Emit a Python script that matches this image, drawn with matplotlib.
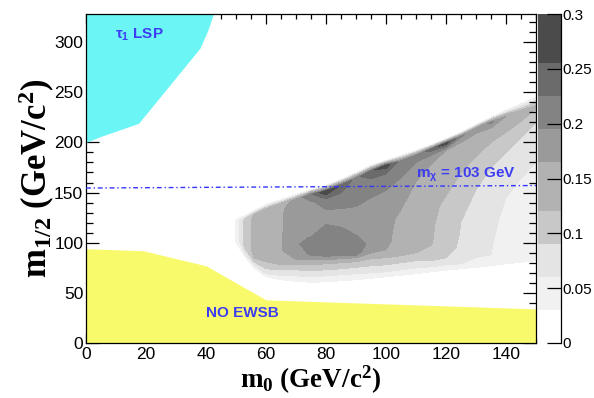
import numpy as np
import matplotlib
matplotlib.use('Agg')
import matplotlib.pyplot as plt
from matplotlib.ticker import MultipleLocator

plt.rcParams['font.family'] = ['Liberation Sans', 'DejaVu Sans']
plt.rcParams['mathtext.fontset'] = 'custom'
plt.rcParams['mathtext.rm'] = 'Liberation Serif'
plt.rcParams['mathtext.bf'] = 'Liberation Serif:bold'
plt.rcParams['mathtext.it'] = 'Liberation Serif:italic'
plt.rcParams['mathtext.sf'] = 'Liberation Sans:bold'

# ---------------- data ----------------
levels = [0, 0.03, 0.06, 0.09, 0.12, 0.165, 0.195, 0.225, 0.255, 0.3]
band_colors = ['#ffffff', '#f1f1f1', '#e4e4e4', '#c8c8c8', '#b2b2b2',
               '#9a9a9a', '#838383', '#6b6b6b', '#4b4b4b']
cbar_ticks = [0, 0.05, 0.1, 0.15, 0.2, 0.25, 0.3]
cbar_labels = ['0', '0.05', '0.1', '0.15', '0.2', '0.25', '0.3']

# grid columns (m0) with per-column m1/2 nodes and efficiency values
m0_cols = [48.5, 50.5, 53, 56, 60, 65, 70, 75, 80, 85, 90, 95, 100, 105,
           110, 115, 120, 125, 130, 135, 140, 145, 150]
m12_nodes = [
    [95, 100, 103, 106, 108, 110, 112, 114, 116, 118, 119, 120, 121, 124, 127],
    [92, 98, 101, 104, 106, 108, 110, 112, 114, 116, 118, 120, 121, 124, 127],
    [80, 86, 89, 92, 95, 99, 103, 107, 111, 115, 118, 121, 124, 127, 130],
    [71, 75, 78, 81, 85, 91, 97, 103, 109, 115, 120, 124, 128, 132, 135],
    [62, 66, 69, 74, 81, 88, 96, 104, 112, 119, 125, 129, 133, 138, 141],
    [59, 63, 67.5, 73, 78, 84, 92, 101, 110, 119, 127, 133, 138, 143, 146],
    [57, 61.5, 67, 73, 78, 83, 92, 100, 110, 120, 130, 137, 143, 148, 151],
    [56, 60.5, 66, 72, 78, 83, 88, 95, 103, 115, 130, 140, 148, 153, 156],
    [57, 61, 67, 73, 79, 83, 87, 100, 116, 125, 133, 142, 151, 157, 160],
    [58, 62, 68, 74, 80, 84, 88, 100, 112, 122, 134, 145, 157, 163, 166],
    [59, 63, 69, 75.5, 81, 85, 88, 96, 104, 120, 136, 150, 164, 170, 173],
    [60.5, 64.5, 70, 77, 84, 90, 95, 100, 108, 125, 145, 158, 171, 177, 180],
    [62, 66, 71, 78, 85, 93, 100, 110, 120, 135, 152, 165, 177, 182, 185],
    [63.5, 67.5, 73, 80, 87, 95, 105, 115, 125, 133, 150, 165, 181, 187, 190],
    [65, 69, 75, 82, 90, 100, 115, 130, 145, 161, 172, 180, 187, 192, 195],
    [67, 71, 76, 82, 90, 100, 115, 135, 155, 170, 178, 186, 193, 197.5, 200.5],
    [68.5, 72.5, 78, 85, 95, 110, 125, 137, 147, 165, 180, 192, 199, 203.5, 206.5],
    [70, 74, 79, 86, 95, 108, 121, 135, 150, 170, 185, 200, 206, 210, 213],
    [71.5, 75.5, 80, 88, 100, 115, 130, 153, 170, 186, 200, 209, 214, 217.5, 220.5],
    [73, 77, 82, 88, 100, 120, 140, 160, 175, 188, 200, 212, 220, 225, 228],
    [75, 79, 84, 95, 110, 125, 145, 165, 190, 200, 210, 218, 226, 232, 235],
    [76.5, 80.5, 86, 100, 120, 140, 164, 180, 195, 205, 214, 221, 230, 238.5, 241.5],
    [78, 82, 88, 100, 120, 145, 165, 180, 200, 212, 220, 228, 236, 245, 248],
]
eff_vals = [
    [0] * 15,
    [0, 0.03, 0.045, 0.05, 0.05, 0.05, 0.05, 0.05, 0.05, 0.05, 0.05, 0.05, 0.045, 0.03, 0],
    [0, 0.03, 0.06, 0.08, 0.095, 0.1, 0.1, 0.1, 0.1, 0.1, 0.1, 0.1, 0.09, 0.03, 0],
    [0, 0.03, 0.06, 0.09, 0.12, 0.13, 0.13, 0.13, 0.13, 0.13, 0.13, 0.13, 0.12, 0.03, 0],
    [0, 0.03, 0.06, 0.09, 0.12, 0.145, 0.15, 0.15, 0.15, 0.15, 0.15, 0.15, 0.14, 0.03, 0],
    [0, 0.03, 0.06, 0.09, 0.12, 0.155, 0.162, 0.162, 0.162, 0.162, 0.162, 0.16, 0.15, 0.03, 0],
    [0, 0.03, 0.06, 0.09, 0.12, 0.165, 0.185, 0.19, 0.185, 0.18, 0.18, 0.18, 0.175, 0.03, 0],
    [0, 0.03, 0.06, 0.09, 0.12, 0.165, 0.198, 0.21, 0.198, 0.185, 0.185, 0.19, 0.22, 0.03, 0],
    [0, 0.03, 0.06, 0.09, 0.12, 0.165, 0.2, 0.215, 0.198, 0.185, 0.195, 0.21, 0.28, 0.03, 0],
    [0, 0.03, 0.06, 0.09, 0.12, 0.165, 0.2, 0.215, 0.2, 0.185, 0.195, 0.21, 0.25, 0.03, 0],
    [0, 0.03, 0.06, 0.09, 0.12, 0.165, 0.2, 0.205, 0.198, 0.185, 0.195, 0.21, 0.215, 0.03, 0],
    [0, 0.03, 0.06, 0.09, 0.12, 0.165, 0.185, 0.19, 0.185, 0.18, 0.195, 0.205, 0.25, 0.03, 0],
    [0, 0.03, 0.06, 0.09, 0.12, 0.165, 0.172, 0.172, 0.172, 0.175, 0.195, 0.205, 0.27, 0.03, 0],
    [0, 0.03, 0.06, 0.09, 0.12, 0.14, 0.152, 0.156, 0.16, 0.165, 0.18, 0.195, 0.21, 0.03, 0],
    [0, 0.03, 0.06, 0.09, 0.12, 0.135, 0.14, 0.145, 0.152, 0.165, 0.18, 0.195, 0.2, 0.03, 0],
    [0, 0.03, 0.06, 0.09, 0.115, 0.122, 0.124, 0.13, 0.145, 0.158, 0.165, 0.185, 0.24, 0.03, 0],
    [0, 0.03, 0.06, 0.09, 0.1, 0.105, 0.108, 0.112, 0.12, 0.135, 0.15, 0.165, 0.27, 0.03, 0],
    [0, 0.03, 0.06, 0.075, 0.085, 0.088, 0.09, 0.1, 0.11, 0.12, 0.14, 0.165, 0.2, 0.03, 0],
    [0, 0.03, 0.05, 0.065, 0.072, 0.078, 0.083, 0.09, 0.1, 0.12, 0.14, 0.165, 0.18, 0.03, 0],
    [0, 0.03, 0.05, 0.06, 0.062, 0.065, 0.075, 0.085, 0.09, 0.105, 0.12, 0.15, 0.2, 0.03, 0],
    [0, 0.03, 0.042, 0.047, 0.05, 0.055, 0.06, 0.075, 0.09, 0.105, 0.12, 0.14, 0.165, 0.03, 0],
    [0, 0.03, 0.04, 0.045, 0.048, 0.053, 0.06, 0.07, 0.08, 0.09, 0.105, 0.12, 0.15, 0.03, 0],
    [0, 0.03, 0.038, 0.042, 0.045, 0.05, 0.055, 0.06, 0.075, 0.085, 0.09, 0.1, 0.13, 0.03, 0],
]

# excluded regions
ewsb_m0 = [0, 19, 40, 60, 150]
ewsb_m12 = [94, 92, 77, 43, 34]
lsp_m12 = [200, 206, 219, 294, 311, 328]
lsp_m0 = [0, 5, 17.5, 38, 40.5, 42.5]

# chargino mass line
mchi_m0 = [0, 150]
mchi_m12 = [154.5, 157]

# ---------------- plot ----------------
fig = plt.figure(figsize=(5.94, 3.98), dpi=100)
ax = fig.add_axes([86 / 594, 55 / 398, 450 / 594, 329 / 398])
cax = fig.add_axes([538 / 594, 55 / 398, 23 / 594, 329 / 398])

X = np.tile(np.array(m0_cols, dtype=float), (15, 1))
Y = np.array(m12_nodes, dtype=float).T
Z = np.array(eff_vals, dtype=float).T
cf = ax.contourf(X, Y, Z, levels=levels, colors=band_colors, zorder=1)

ax.fill_between(ewsb_m0, 0, ewsb_m12, color='#f9f96c', lw=0, zorder=2)
ax.fill_betweenx(lsp_m12, 0, lsp_m0, color='#6cf5f5', lw=0, zorder=2)
ax.plot(mchi_m0, mchi_m12, color='#3535ff', lw=1.0,
        linestyle=(0, (3.5, 2, 1, 2)), zorder=3)

blue = '#3d3df2'
ax.text(9.7, 303, '$\\mathsf{τ_{1}}$ LSP', color=blue, fontsize=11,
        fontweight='bold', va='baseline', ha='left', zorder=4)
ax.text(110, 165, '$\\mathsf{m_{χ}}$ = 103 GeV', color=blue, fontsize=11,
        fontweight='bold', va='baseline', ha='left', zorder=4)
ax.text(40, 26, 'NO EWSB', color=blue, fontsize=11,
        fontweight='bold', va='baseline', ha='left', zorder=4)

ax.set_xlim(0, 150)
ax.set_ylim(0, 328)
ax.xaxis.set_major_locator(MultipleLocator(20))
ax.xaxis.set_minor_locator(MultipleLocator(5))
ax.yaxis.set_major_locator(MultipleLocator(50))
ax.yaxis.set_minor_locator(MultipleLocator(10))
ax.tick_params(axis='both', which='both', direction='in', top=True, right=True,
               labelsize=12.5, width=0.9)
ax.tick_params(axis='x', which='major', length=7.2, pad=3)
ax.tick_params(axis='x', which='minor', length=3.4)
ax.tick_params(axis='y', which='major', length=9.4, pad=2)
ax.tick_params(axis='y', which='minor', length=4.7)
for s in ax.spines.values():
    s.set_linewidth(0.9)

ax.set_xlabel(r'$\mathbf{m_{0}}$ (GeV/c$^{\mathbf{2}}$)', fontsize=19.5,
              fontweight='bold', family='Liberation Serif', labelpad=1)
ax.set_ylabel(r'$\mathbf{m_{1/2}}$ (GeV/c$^{\mathbf{2}}$)', fontsize=25,
              fontweight='bold', family='Liberation Serif', labelpad=-2)

cbar = fig.colorbar(cf, cax=cax, spacing='proportional', ticks=cbar_ticks)
cbar.ax.set_yticklabels(cbar_labels)
cbar.outline.set_visible(False)
cax.tick_params(direction='in', length=10, width=0.9, labelsize=11, pad=1,
                right=True, left=False)
cax.plot([1, 1], [0, 1], transform=cax.transAxes, color='k', lw=0.9,
         clip_on=False)

fig.savefig('out.png', dpi=100)
